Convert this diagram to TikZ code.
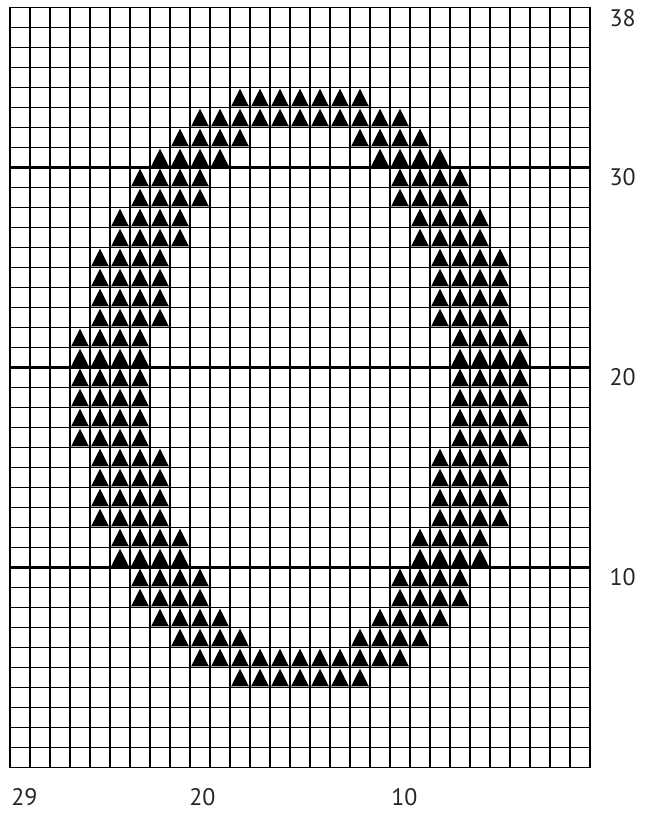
\documentclass[tikz,border=0pt]{standalone}
\usepackage{fontspec}
\setmainfont{PT Sans}
\usetikzlibrary{positioning}

\begin{document}
\begin{tikzpicture}[x=0.5cm, y=0.5cm,
      gridline/.style={line width=0.75pt, black},
      tensline/.style={line width=1.5pt, black},
      frameline/.style={line width=1.1pt, black},
      stitch/.style={fill=black},
      num/.style={font=\fontsize{17}{20}\selectfont, text=black!85,
                  inner sep=0pt, anchor=west}
    ]
    \useasboundingbox (-0.5,-2.325) rectangle (31.7,38.375);

    % grid
    \foreach \x in {1,...,28} \draw[gridline] (\x,0) -- (\x,38);
    \foreach \y in {1,...,37} \draw[gridline] (0,\y) -- (29,\y);
    \foreach \x in {9,19} \draw[tensline] (\x,0) -- (\x,38);
    \foreach \y in {10,20,30} \draw[tensline] (0,\y) -- (29,\y);
    \draw[frameline] (0,0) rectangle (29,38);

    % rows lo..hi, columns a..b
    \foreach \lo/\hi/\a/\b in {34/34/11/17, 33/33/9/19,
        32/32/8/11, 32/32/17/20, 31/31/7/10, 31/31/18/21,
        29/30/6/9, 29/30/19/22, 27/28/5/8, 27/28/20/23,
        23/26/4/7, 23/26/21/24, 17/22/3/6, 17/22/22/25,
        13/16/4/7, 13/16/21/24, 11/12/5/8, 11/12/20/23,
        9/10/6/9, 9/10/19/22, 8/8/7/10, 8/8/18/21,
        7/7/8/11, 7/7/17/20, 6/6/9/19, 5/5/11/17}
      \foreach \n in {\lo,...,\hi}
        \foreach \c in {\a,...,\b}
          \fill[stitch] (\c+0.05,\n-0.95) -- (\c+0.95,\n-0.95)
            -- (\c+0.5,\n-0.06) -- cycle;

    \node[num] (r38) at (29.97,37.45) {38};
    \node[num] (r30) at (29.97,29.5) {30};
    \node[num] (r20) at (29.97,19.5) {20};
    \node[num] (r10) at (29.97,9.5) {10};

    \node[num] (c29) at (0.05,-1.475) {29};
    \node[num] (c20) at (8.95,-1.475) {20};
    \node[num] (c10) at (19.05,-1.475) {10};
  \end{tikzpicture}
\end{document}
